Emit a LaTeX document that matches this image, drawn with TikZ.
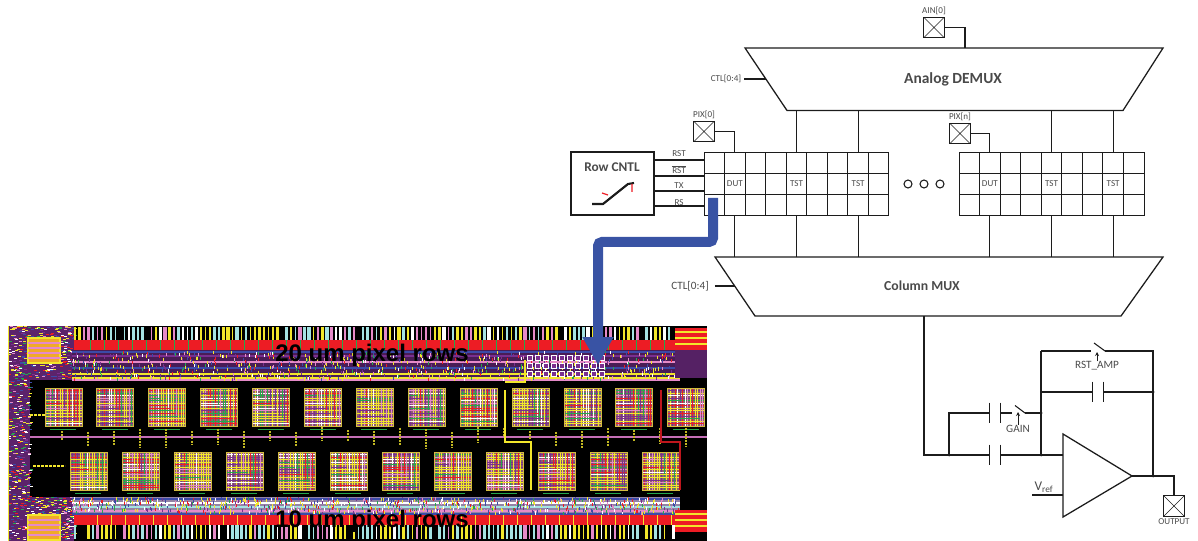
\documentclass[tikz,border=0pt]{standalone}
\usepackage{fontspec}
\setmainfont{Carlito}
\newfontfamily\layfont{Liberation Sans}
\usetikzlibrary{arrows.meta,calc}
\definecolor{Ink}{HTML}{1C1C1C}
\definecolor{Quiet}{HTML}{4A4A4A}
\definecolor{ArrowBlue}{HTML}{3953A4}
\definecolor{LayYellow}{HTML}{F2E62B}
\definecolor{LayRed}{HTML}{ED1C24}
\definecolor{LayPurple}{HTML}{7A2F8F}
\definecolor{LayPink}{HTML}{E58AC8}
\definecolor{LayGreen}{HTML}{25A84C}
\definecolor{LayBlue}{HTML}{3C4AA8}
\definecolor{LayCyan}{HTML}{A5E3E3}
\definecolor{LayBody}{HTML}{8E5F6E}
\pgfmathdeclarerandomlist{stripe}{{white}{LayYellow}{LayYellow}{LayCyan}{LayCyan}{black}{LayPink}}
\pgfmathdeclarerandomlist{mesh}{{LayYellow}{LayYellow}{LayYellow}{LayPink}{LayGreen}{LayRed}{LayPurple}{white}}
\pgfmathdeclarerandomlist{noise}{{LayYellow}{LayYellow}{LayRed}{LayPink}{LayGreen}{LayPurple}{LayBlue}{white}}
\tikzset{
  wire/.style={draw=Ink,line width=0.95pt},
  thin wire/.style={draw=Ink,line width=0.8pt},
  cell/.style={rectangle,draw=Ink,line width=0.7pt,minimum width=15.41pt,minimum height=15.75pt,inner sep=0pt},
  padn/.style={rectangle,draw=Ink,line width=0.9pt,minimum size=15.5pt,inner sep=0pt,
    path picture={\draw[line width=0.5pt,draw=Ink] (path picture bounding box.north west) -- (path picture bounding box.south east)
    (path picture bounding box.north east) -- (path picture bounding box.south west);}},
  lbl/.style={font=\fontsize{6.8}{8}\selectfont,text=Quiet,inner sep=0pt},
  mlbl/.style={font=\fontsize{8.4}{10}\selectfont,text=Quiet,inner sep=0pt},
  ttl/.style={font=\fontsize{10.3}{12}\selectfont\bfseries,text=Quiet,inner sep=0pt},
  jn/.style={circle,fill=Ink,inner sep=0.8pt},
  capn/.style={rectangle,minimum width=7.5pt,minimum height=15pt,inner sep=0pt},
  ctl/.style={draw=Ink,line width=0.7pt,-{Stealth[length=3pt,width=3pt]}},
  lay/.style={font=\layfont\bfseries\fontsize{18}{20}\selectfont,text=black,inner sep=0pt},
}
\newcommand{\capx}[2]{\node[capn] (#1) at (#2) {};
\draw[wire] (#1.north west) -- (#1.south west) (#1.north east) -- (#1.south east);}
\begin{document}
\begin{tikzpicture}[x=0.75pt,y=-0.75pt]
\useasboundingbox (0,0) rectangle (1198,541);
\pgfmathsetseed{11}
% -layout-
\begin{scope}
\clip (8,326) rectangle (707,541);
\fill[black] (8,326) rectangle (707,541);
\fill[LayPurple!75!black] (8,326) rectangle (30,541);
\fill[LayPurple!75!black] (30,326) rectangle (74,380);
\fill[LayPurple!75!black] (30,497) rectangle (74,541);
\foreach \i in {1,...,420}{
  \pgfmathsetmacro\rx{8+rnd*22}\pgfmathsetmacro\ry{326+rnd*215}
  \pgfmathrandomitem{\cc}{noise}
  \draw[\cc,line width=0.7pt] (\rx,\ry) -- ++(3,0);}
\foreach \i in {1,...,260}{
  \pgfmathsetmacro\rx{30+rnd*44}\pgfmathsetmacro\ry{326+rnd*54}
  \pgfmathrandomitem{\cc}{noise}
  \draw[\cc,line width=0.6pt] (\rx,\ry) -- ++(3,0);
  \pgfmathsetmacro\rx{30+rnd*44}\pgfmathsetmacro\ry{497+rnd*44}
  \pgfmathrandomitem{\cc}{noise}
  \draw[\cc,line width=0.6pt] (\rx,\ry) -- ++(3,0);}
\draw[LayYellow,line width=1pt] (8,326) -- (8,541);
% stripes
\foreach \x in {75,79.5,...,675}{
  \pgfmathrandomitem{\cc}{stripe}\pgfmathsetmacro\rw{1+rnd*1.4}
  \draw[\cc,line width=\rw pt] (\x,327) -- (\x,340);
  \pgfmathrandomitem{\cc}{stripe}\pgfmathsetmacro\rw{1+rnd*1.4}
  \draw[\cc,line width=\rw pt] (\x,525) -- (\x,539);}
% red bands
\fill[LayRed] (74,340) rectangle (690,350);
\fill[LayRed] (74,514) rectangle (690,525);
\foreach \x in {90,104,...,680}{
  \draw[LayGreen,line width=0.5pt] (\x,340) -- (\x,350);
  \draw[LayYellow,line width=0.5pt] (\x+7,514) -- (\x+7,525);}
% logic rows
\fill[LayPurple!60!black] (72,350) rectangle (680,380);
\fill[LayGreen!25!LayPurple!70!white] (72,497) rectangle (680,514);
\foreach \y/\cc in {352/LayBlue,356/LayPurple,362/LayPink,368/LayBlue,374/LayYellow,378/LayYellow,380/LayPink,
                    499/LayBlue,503/white,507/LayCyan,511/LayPink,514/LayBlue}{
  \draw[\cc,line width=0.8pt] (72,\y) -- (680,\y);}
\foreach \i in {1,...,850}{
  \pgfmathsetmacro\rx{72+rnd*608}\pgfmathsetmacro\ry{351+rnd*27}
  \pgfmathrandomitem{\cc}{noise}
  \draw[\cc,line width=0.7pt] (\rx,\ry) -- ++(0,3);
  \pgfmathsetmacro\rx{72+rnd*608}\pgfmathsetmacro\ry{497+rnd*15}
  \pgfmathrandomitem{\cc}{noise}
  \draw[\cc,line width=0.7pt] (\rx,\ry) -- ++(0,3);}
% cell block
\foreach \r in {358,366,374}{\foreach \x in {527,535,...,600}{
  \draw[white,fill=LayPurple,line width=0.6pt] (\x,\r-2.5) rectangle ++(5,5);}}
% corner blocks
\foreach \y in {338,515}{
  \fill[LayYellow!70!LayRed] (28,\y) rectangle ++(32,25);
  \draw[LayYellow,line width=1pt] (28,\y) rectangle ++(32,25);
  \foreach \d in {5,10,15,20}{\draw[LayPink,line width=0.8pt] (28,\y+\d) -- ++(32,0);}}
\foreach \y in {328,510}{
  \fill[LayRed] (675,\y) rectangle (707,\y+22);
  \foreach \d in {4,10,16}{\draw[LayYellow,line width=0.8pt] (675,\y+\d) -- ++(32,0);}}
\fill[LayPurple!70!black] (675,350) rectangle (707,378);
% pixel arrays
\foreach \n/\px/\py/\pc in {13/45/388/51.9,12/70/452/52}{
  \foreach \i in {1,...,\n}{
    \pgfmathsetmacro\x{\px+(\i-1)*\pc}
    \fill[LayBody] (\x,\py) rectangle ++(37,38);
    \foreach \k in {1,...,14}{
      \pgfmathrandomitem{\cc}{mesh}
      \draw[\cc,line width=0.45pt] (\x+2.47*\k,\py) -- ++(0,38);
      \pgfmathrandomitem{\cc}{mesh}
      \draw[\cc,line width=0.45pt] (\x,\py+2.53*\k) -- ++(37,0);}
    \draw[LayYellow!70!LayBody,line width=0.7pt] (\x,\py) rectangle ++(37,38);
    \draw[LayGreen,line width=0.7pt] (\x+5,\py+41) -- ++(26,0);}}
% bus and marks
\draw[LayPink!70!LayPurple,line width=1.3pt] (30,437) -- (707,437);
\foreach \x in {62,88,114,...,700}{
  \pgfmathsetmacro\ry{427+rnd*5}\pgfmathsetmacro\rh{8+rnd*12}
  \draw[LayYellow!80!black,line width=1.8pt,dash pattern=on 1.5pt off 0.8pt] (\x,\ry) -- ++(0,\rh);}
\draw[LayYellow,line width=1.5pt,dash pattern=on 2pt off 1pt] (30,415) -- (45,415);
\draw[LayYellow,line width=1.5pt,dash pattern=on 2pt off 1pt] (33,466) -- (65,466);
\draw[LayYellow,line width=1pt] (505,382) -- (525,382) -- (525,360);
\draw[LayYellow,line width=1pt] (505,390) -- (505,442) -- (531,442) -- (531,490);
\draw[LayRed!80!black,line width=1pt] (661,390) -- (661,442) -- (680,442) -- (680,490);
\end{scope}
\node[lay] (toprows) at (372,355) {20 um pixel rows};
\node[lay] (botrows) at (372,521) {10 um pixel rows};
% -demux-
\coordinate (dmx-tl) at (745,48);
\coordinate (dmx-tr) at (1163,48);
\coordinate (dmx-br) at (1123,110.5);
\coordinate (dmx-bl) at (787,110.5);
\draw[wire] (dmx-tl) -- (dmx-tr) -- (dmx-br) -- (dmx-bl) -- cycle;
\node[ttl,font=\fontsize{11.6}{13}\selectfont\bfseries] (dmxttl) at (953,79) {Analog DEMUX};
\node[padn] (ain) at (934,27.5) {};
\node[lbl] (ainl) at (934,10.5) {AIN[0]};
\coordinate (ain-in) at (965,48);
\draw[wire] (ain.east) -| (ain-in);
\node[lbl] (ctlup) at (726,79) {CTL[0:4]};
\coordinate (ctlup-e) at (765.5,79);
\draw[thin wire] (ctlup.east)++(3,0) -- (ctlup-e);
% -column mux-
\coordinate (mux-tl) at (715,257);
\coordinate (mux-tr) at (1163,257);
\coordinate (mux-br) at (1121,316);
\coordinate (mux-bl) at (755,316);
\draw[wire] (mux-tl) -- (mux-tr) -- (mux-br) -- (mux-bl) -- cycle;
\node[ttl] (muxttl) at (922,286) {Column MUX};
\node[mlbl] (ctldn) at (690,286) {CTL[0:4]};
\coordinate (ctldn-e) at (735,286);
\draw[thin wire] (ctldn.east)++(6,0) -- (ctldn-e);
% -pixel grids-
\foreach \g/\gx in {L/704,R/959}{
  \foreach \c in {1,...,9}{\foreach \r in {1,2,3}{
    \pgfmathsetmacro\x{\gx+(\c-0.5)*20.55}\pgfmathsetmacro\y{152+(\r-0.5)*21}
    \node[cell] (\g-\c-\r) at (\x,\y) {};}}
  \node[lbl] (\g-dut) at (\g-2-2) {DUT};
  \node[lbl] (\g-tsta) at (\g-5-2) {TST};
  \node[lbl] (\g-tstb) at (\g-8-2) {TST};
  \foreach \c in {2,5,8}{\draw[wire] (\g-\c-3.south) -- (\g-\c-3.south |- mux-tl);}
  \foreach \c in {5,8}{\draw[wire] (\g-\c-1.north) -- (\g-\c-1.north |- dmx-bl);}
}
\node[padn] (pix0) at (704,131.5) {};
\node[lbl] (pix0l) at (704,115) {PIX[0]};
\draw[wire] (pix0.east) -| (L-2-1.north);
\node[padn] (pixn) at (960,133.5) {};
\node[lbl] (pixnl) at (960,116.5) {PIX[n]};
\draw[wire] (pixn.east) -| (R-2-1.north);
\foreach \n/\x in {a/908,b/924,c/940}{\node[circle,draw=Ink,line width=0.8pt,minimum size=6pt,inner sep=0pt] (dot\n) at (\x,184) {};}
% -row control-
\node[rectangle,draw=Ink,line width=0.95pt,minimum width=62.25pt,minimum height=47.25pt,inner sep=0pt] (rowc) at (612.5,183.5) {};
\node[font=\fontsize{10}{12}\selectfont\bfseries,text=Quiet,inner sep=0pt] (rowttl) at (612,167) {Row CNTL};
\draw[line width=1.6pt,Ink] (592,204) -- (603,204) -- (628,184) -- (634,183);
\draw[line width=0.9pt,LayRed] (602,193) -- (608,195) (632,184) -- (632,192);
\foreach \n/\y/\t/\ly in {a/160/RST/153.5,b/176/$\overline{\mbox{RST}}$/169.5,c/191/TX/186,d/206/RS/203}{
  \coordinate (rs\n) at (704,\y);
  \draw[thin wire] (rs\n -| rowc.east) -- (rs\n);
  \node[lbl] (rl\n) at (679,\ly) {\t};}
% -amplifier-
\coordinate (amp-a) at (1063,434);
\coordinate (amp-b) at (1063,517);
\coordinate (amp-c) at (1132,476);
\draw[wire] (amp-a) -- (amp-c) -- (amp-b) -- cycle;
\coordinate (bend) at (924,455);
\coordinate (colout) at (924,316);
\coordinate (amp-in) at (1063,455);
\node[jn] (ja) at (949,455) {};
\node[jn] (jb) at (1041,455) {};
\node[jn] (jc) at (1041,413) {};
\node[jn] (jd) at (1153,392) {};
\node[jn] (je) at (1153,476) {};
\coordinate (fa) at (949,413);
\coordinate (fb) at (1041,351);
\coordinate (fc) at (1153,351);
\coordinate (fd) at (1041,392);
\capx{ca}{995,455}
\capx{cb}{995,413}
\capx{cc}{1098,392}
\draw[wire] (colout) -- (bend) -- (ca.west) (ca.east) -- (amp-in);
\draw[wire] (ja.center) -- (fa) -- (cb.west);
\draw[wire] (jb.center) -- (fb);
\draw[wire] (fd) -- (cc.west);
\draw[wire] (cc.east) -- (jd.center);
% switches
\coordinate (swa-l) at (1012,413);
\coordinate (swa-t) at (1015,405.5);
\coordinate (swa-r) at (1025,413);
\coordinate (swb-l) at (1091,351);
\coordinate (swb-t) at (1094,343);
\coordinate (swb-r) at (1105,351);
\draw[wire] (cb.east) -- (swa-l) (swa-r) -- (jc.center);
\draw[wire,line width=0.8pt] (swa-t) -- (swa-r);
\draw[wire] (fb) -- (swb-l) (swb-r) -- (fc) -- (je.center);
\draw[wire,line width=0.8pt] (swb-t) -- (swb-r);
\node[mlbl] (gainl) at (1018,428.5) {GAIN};
\node[mlbl] (rstl) at (1097,366) {RST\_AMP};
\coordinate (swa-c) at (1018,412);
\coordinate (swb-c) at (1097,352);
\draw[ctl] (gainl.north) -- (swa-c);
\draw[ctl] (rstl.north) -- (swb-c);
% output
\node[padn] (outp) at (1174,506) {};
\node[lbl] (outl) at (1174,522) {OUTPUT};
\draw[wire] (amp-c) -- (je.center);
\draw[wire] (je.center) -| (outp.north);
\coordinate (vref-l) at (1032,495);
\coordinate (vref-r) at (1063,495);
\draw[wire] (vref-l) -- (vref-r);
\node[font=\fontsize{10}{12}\selectfont,text=Quiet,inner sep=0pt] (vrefl) at (1044,487) {V\textsubscript{ref}};
% -pointer-
\coordinate (ptr-s) at (713,198);
\coordinate (ptr-e) at (598,365);
\draw[ArrowBlue,line width=7.5pt,rounded corners=3pt,-{Triangle[length=21pt,width=22pt]}] (ptr-s) -- ++(0,44) -| (ptr-e);
\end{tikzpicture}
\end{document}
